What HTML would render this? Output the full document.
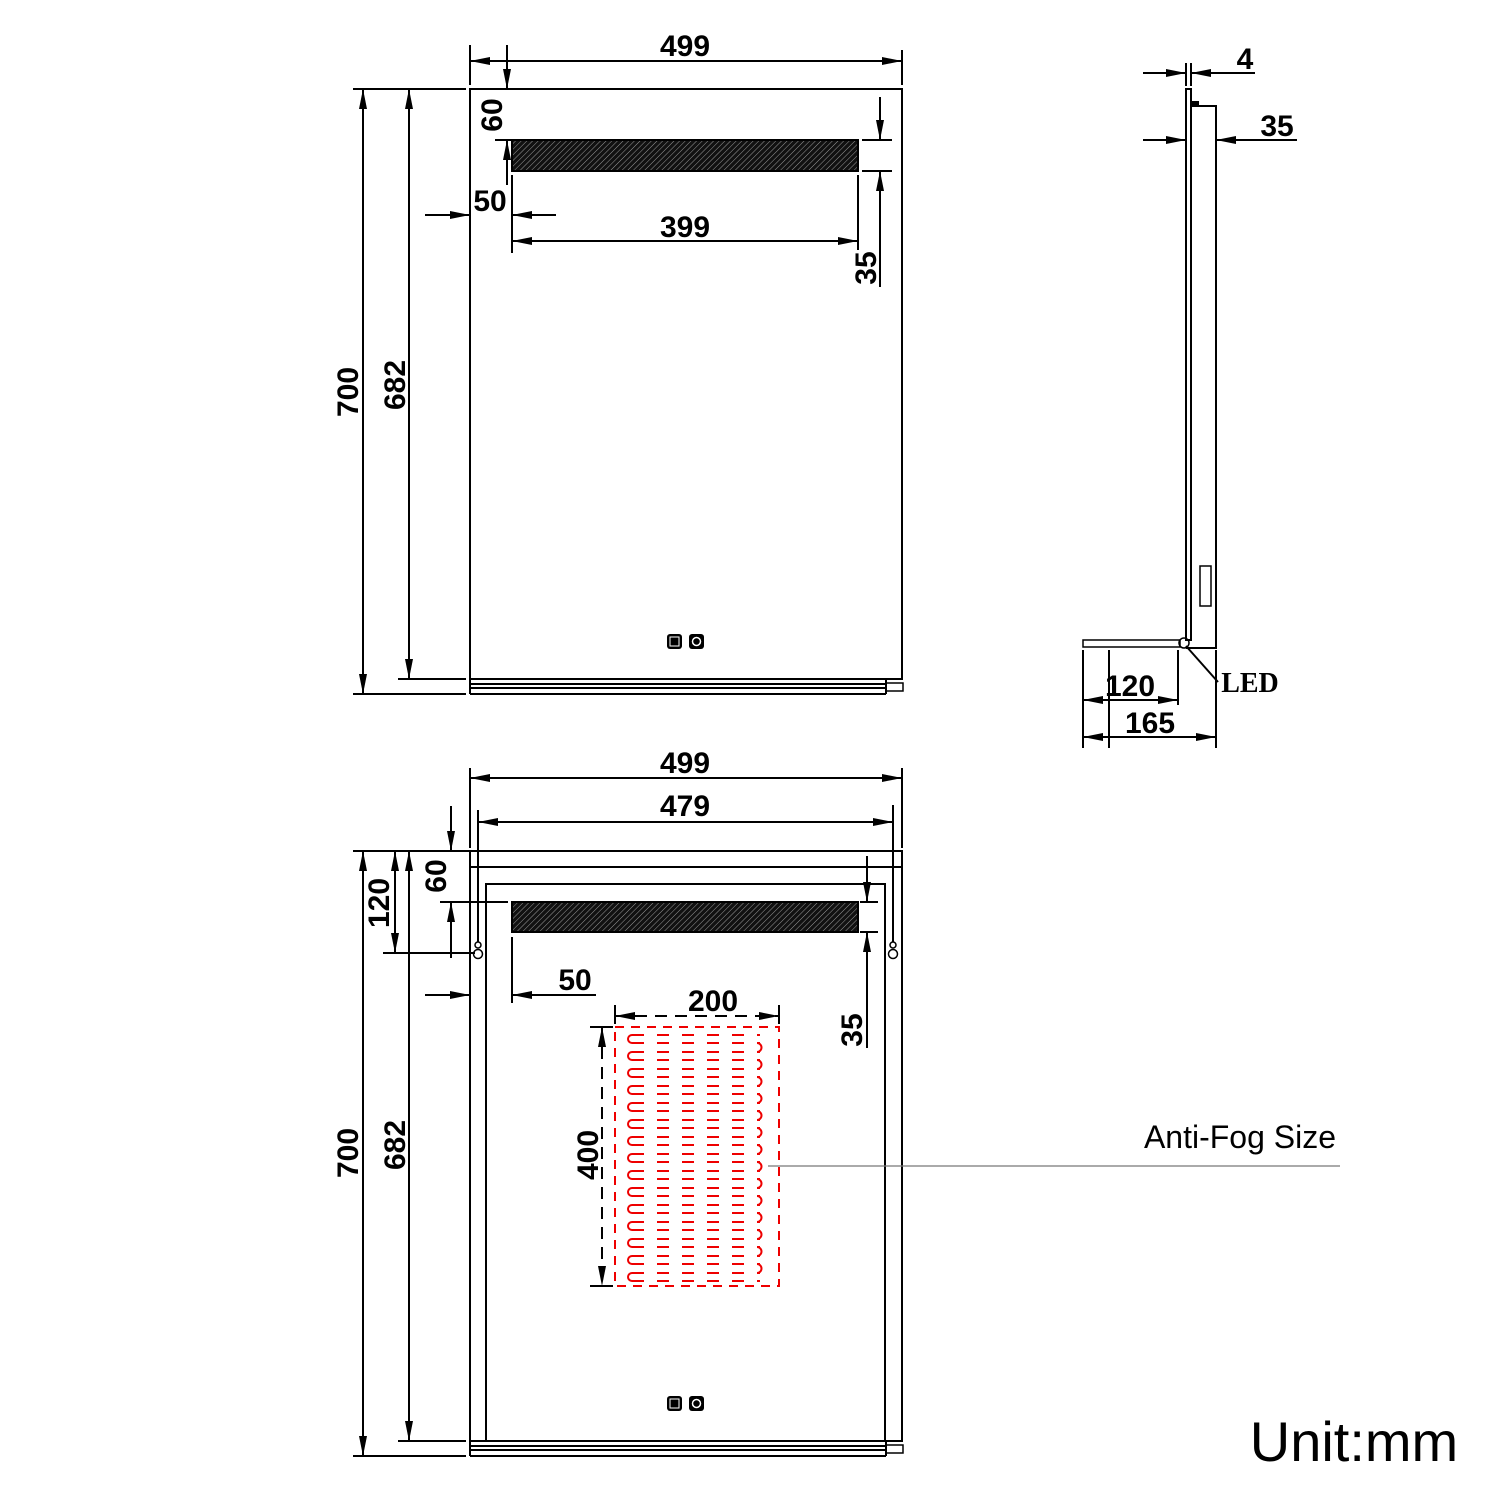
<!DOCTYPE html>
<html><head><meta charset="utf-8"><style>
html,body{margin:0;padding:0;background:#fff}
svg{display:block}
.n{font-family:"Liberation Sans Narrow","Liberation Sans",sans-serif;font-weight:bold;font-size:30px;fill:#000}
</style></head><body>
<svg width="1500" height="1500" viewBox="0 0 1500 1500" xmlns="http://www.w3.org/2000/svg">
<defs>
<marker id="a" viewBox="0 0 20 8" refX="20" refY="4" markerWidth="20" markerHeight="8" markerUnits="userSpaceOnUse" orient="auto-start-reverse"><path d="M0,0 L20,4 L0,8 z" fill="#000"/></marker>
<pattern id="h" width="4" height="4" patternUnits="userSpaceOnUse" patternTransform="rotate(45)"><rect width="4" height="4" fill="#111"/><line x1="0" y1="0" x2="0" y2="4" stroke="#999" stroke-width="1"/></pattern>
</defs>
<g stroke="#000" stroke-width="2" fill="none">
<rect x="470" y="89" width="432" height="590"/>
<line x1="470" y1="684" x2="886" y2="684"/><line x1="470" y1="688" x2="886" y2="688"/><line x1="470" y1="694" x2="886" y2="694"/>
<line x1="470" y1="679" x2="470" y2="694"/><line x1="886" y1="679" x2="886" y2="694"/>
<rect x="886" y="683" width="17" height="8" stroke-width="1.5"/>
<rect x="512" y="140" width="346" height="31" fill="url(#h)"/>
<line x1="470" y1="45" x2="470" y2="85"/><line x1="902" y1="50" x2="902" y2="85"/>
<line x1="470" y1="61" x2="902" y2="61" marker-start="url(#a)" marker-end="url(#a)"/>
<line x1="353" y1="89" x2="466" y2="89"/><line x1="353" y1="694" x2="466" y2="694"/><line x1="398" y1="679" x2="466" y2="679"/>
<line x1="363" y1="89" x2="363" y2="694" marker-start="url(#a)" marker-end="url(#a)"/>
<line x1="409" y1="89" x2="409" y2="679" marker-start="url(#a)" marker-end="url(#a)"/>
<line x1="507" y1="45" x2="507" y2="89" marker-end="url(#a)"/>
<line x1="507" y1="185" x2="507" y2="140" marker-end="url(#a)"/>
<line x1="495" y1="140" x2="512" y2="140"/>
<line x1="425" y1="215" x2="470" y2="215" marker-end="url(#a)"/>
<line x1="556" y1="215" x2="512" y2="215" marker-end="url(#a)"/>
<line x1="512" y1="175" x2="512" y2="253"/><line x1="858" y1="175" x2="858" y2="250"/>
<line x1="512" y1="241" x2="858" y2="241" marker-start="url(#a)" marker-end="url(#a)"/>
<line x1="862" y1="140" x2="892" y2="140"/><line x1="862" y1="171" x2="892" y2="171"/>
<line x1="880" y1="97" x2="880" y2="140" marker-end="url(#a)"/>
<line x1="880" y1="287" x2="880" y2="171" marker-end="url(#a)"/>
</g>
<rect x="667" y="634" width="15" height="15" rx="3" fill="#000"/><rect x="689" y="634" width="15" height="15" rx="3" fill="#000"/>
<rect x="670" y="637" width="9" height="9" fill="none" stroke="#fff" stroke-width="1"/><circle cx="696.5" cy="641.5" r="4" fill="none" stroke="#fff" stroke-width="1.5"/>
<text class="n" x="685" y="56" text-anchor="middle">499</text>
<text class="n" x="685" y="237" text-anchor="middle">399</text>
<text class="n" x="490" y="211" text-anchor="middle">50</text>
<text class="n" transform="translate(502,115) rotate(-90)" text-anchor="middle">60</text>
<text class="n" transform="translate(876,268) rotate(-90)" text-anchor="middle">35</text>
<text class="n" transform="translate(358,392) rotate(-90)" text-anchor="middle">700</text>
<text class="n" transform="translate(405,385) rotate(-90)" text-anchor="middle">682</text>

<g stroke="#000" stroke-width="2" fill="none">
<rect x="470" y="851" width="432" height="590"/>
<line x1="470" y1="867" x2="902" y2="867"/>
<path d="M486,1441 V884 H885 V1441"/>
<line x1="470" y1="1446" x2="886" y2="1446"/><line x1="470" y1="1450" x2="886" y2="1450"/><line x1="470" y1="1456" x2="886" y2="1456"/>
<line x1="470" y1="1441" x2="470" y2="1456"/><line x1="886" y1="1441" x2="886" y2="1456"/>
<rect x="886" y="1445" width="17" height="8" stroke-width="1.5"/>
<rect x="512" y="902" width="346" height="30" fill="url(#h)"/>
<line x1="478" y1="810" x2="478" y2="942"/><line x1="893" y1="805" x2="893" y2="942"/>
<circle cx="478" cy="954" r="4.5" stroke-width="1.5"/><circle cx="478" cy="945" r="3" stroke-width="1.5"/>
<circle cx="893" cy="954" r="4.5" stroke-width="1.5"/><circle cx="893" cy="945" r="3" stroke-width="1.5"/>
<line x1="470" y1="768" x2="470" y2="848"/><line x1="902" y1="768" x2="902" y2="848"/>
<line x1="470" y1="778" x2="902" y2="778" marker-start="url(#a)" marker-end="url(#a)"/>
<line x1="478" y1="822" x2="893" y2="822" marker-start="url(#a)" marker-end="url(#a)"/>
<line x1="353" y1="851" x2="470" y2="851"/><line x1="353" y1="1456" x2="466" y2="1456"/><line x1="398" y1="1441" x2="466" y2="1441"/>
<line x1="363" y1="851" x2="363" y2="1456" marker-start="url(#a)" marker-end="url(#a)"/>
<line x1="409" y1="851" x2="409" y2="1441" marker-start="url(#a)" marker-end="url(#a)"/>
<line x1="395" y1="851" x2="395" y2="953" marker-start="url(#a)" marker-end="url(#a)"/>
<line x1="383" y1="953" x2="475" y2="953"/>
<line x1="451" y1="806" x2="451" y2="851" marker-end="url(#a)"/>
<line x1="451" y1="958" x2="451" y2="902" marker-end="url(#a)"/>
<line x1="440" y1="902" x2="508" y2="902"/>
<line x1="425" y1="995" x2="470" y2="995" marker-end="url(#a)"/>
<line x1="596" y1="995" x2="512" y2="995" marker-end="url(#a)"/>
<line x1="512" y1="937" x2="512" y2="1003"/>
<line x1="860" y1="902" x2="878" y2="902"/><line x1="860" y1="932" x2="878" y2="932"/>
<line x1="867" y1="856" x2="867" y2="902" marker-end="url(#a)"/>
<line x1="867" y1="1048" x2="867" y2="932" marker-end="url(#a)"/>
<line x1="615" y1="1005" x2="615" y2="1024"/><line x1="779" y1="1005" x2="779" y2="1024"/>
<line x1="615" y1="1016" x2="779" y2="1016" stroke-dasharray="12 8" marker-start="url(#a)" marker-end="url(#a)"/>
<line x1="590" y1="1027" x2="613" y2="1027"/><line x1="590" y1="1286" x2="613" y2="1286"/>
<line x1="602" y1="1027" x2="602" y2="1286" stroke-dasharray="12 8" marker-start="url(#a)" marker-end="url(#a)"/>
</g>
<g stroke="#e00" stroke-width="2" fill="none">
<rect x="615" y="1027" width="164" height="259" stroke-dasharray="9 7"/>
<path d="
M632,1035 A4,4 0 0 0 632,1043 M632,1052 A4,4 0 0 0 632,1060 M632,1069 A4,4 0 0 0 632,1077 M632,1086 A4,4 0 0 0 632,1094 M632,1103 A4,4 0 0 0 632,1111 M632,1120 A4,4 0 0 0 632,1128 M632,1137 A4,4 0 0 0 632,1145 M632,1154 A4,4 0 0 0 632,1162 M632,1171 A4,4 0 0 0 632,1179 M632,1188 A4,4 0 0 0 632,1196 M632,1205 A4,4 0 0 0 632,1213 M632,1222 A4,4 0 0 0 632,1230 M632,1239 A4,4 0 0 0 632,1247 M632,1256 A4,4 0 0 0 632,1264 M632,1273 A4,4 0 0 0 632,1281
M757,1043 A4,4 0 0 1 757,1052 M757,1060 A4,4 0 0 1 757,1069 M757,1077 A4,4 0 0 1 757,1086 M757,1094 A4,4 0 0 1 757,1103 M757,1111 A4,4 0 0 1 757,1120 M757,1128 A4,4 0 0 1 757,1137 M757,1145 A4,4 0 0 1 757,1154 M757,1162 A4,4 0 0 1 757,1171 M757,1179 A4,4 0 0 1 757,1188 M757,1196 A4,4 0 0 1 757,1205 M757,1213 A4,4 0 0 1 757,1222 M757,1230 A4,4 0 0 1 757,1239 M757,1247 A4,4 0 0 1 757,1256 M757,1264 A4,4 0 0 1 757,1273"/>
<path stroke-dasharray="12 13" d="
M632,1035 H760 M632,1043 H760 M632,1052 H760 M632,1060 H760 M632,1069 H760 M632,1077 H760 M632,1086 H760 M632,1094 H760 M632,1103 H760 M632,1111 H760 M632,1120 H760 M632,1128 H760 M632,1137 H760 M632,1145 H760 M632,1154 H760 M632,1162 H760 M632,1171 H760 M632,1179 H760 M632,1188 H760 M632,1196 H760 M632,1205 H760 M632,1213 H760 M632,1222 H760 M632,1230 H760 M632,1239 H760 M632,1247 H760 M632,1256 H760 M632,1264 H760 M632,1273 H760 M632,1281 H760"/>
</g>
<line x1="768" y1="1166" x2="1340" y2="1166" stroke="#777" stroke-width="1.2"/>
<rect x="667" y="1396" width="15" height="15" rx="3" fill="#000"/><rect x="689" y="1396" width="15" height="15" rx="3" fill="#000"/>
<rect x="670" y="1399" width="9" height="9" fill="none" stroke="#fff" stroke-width="1"/><circle cx="696.5" cy="1403.5" r="4" fill="none" stroke="#fff" stroke-width="1.5"/>
<text class="n" x="685" y="773" text-anchor="middle">499</text>
<text class="n" x="685" y="816" text-anchor="middle">479</text>
<text class="n" x="575" y="990" text-anchor="middle">50</text>
<text class="n" x="713" y="1011" text-anchor="middle">200</text>
<text class="n" transform="translate(446,876) rotate(-90)" text-anchor="middle">60</text>
<text class="n" transform="translate(389,903) rotate(-90)" text-anchor="middle">120</text>
<text class="n" transform="translate(862,1030) rotate(-90)" text-anchor="middle">35</text>
<text class="n" transform="translate(598,1155) rotate(-90)" text-anchor="middle">400</text>
<text class="n" transform="translate(358,1153) rotate(-90)" text-anchor="middle">700</text>
<text class="n" transform="translate(405,1145) rotate(-90)" text-anchor="middle">682</text>
<text x="1240" y="1148" text-anchor="middle" font-family="Liberation Sans, sans-serif" font-size="32" fill="#000">Anti-Fog Size</text>
<text x="1354" y="1461" text-anchor="middle" font-family="Liberation Sans, sans-serif" font-size="56" fill="#000">Unit:mm</text>

<g stroke="#000" stroke-width="2" fill="none">
<rect x="1186" y="89" width="5" height="551"/>
<path d="M1191,106 H1216 V648 H1186"/>
<rect x="1191" y="102" width="7" height="4" fill="#000"/>
<rect x="1200" y="566" width="11" height="40" stroke-width="1.5"/>
<rect x="1083" y="640" width="97" height="7" stroke-width="1.5"/>
<circle cx="1184" cy="643" r="5" stroke-width="1.5"/>
<line x1="1186" y1="646" x2="1218" y2="682" stroke-width="2"/>
<line x1="1186" y1="63" x2="1186" y2="86"/><line x1="1191" y1="63" x2="1191" y2="86"/>
<line x1="1143" y1="73" x2="1186" y2="73" marker-end="url(#a)"/>
<line x1="1255" y1="73" x2="1191" y2="73" marker-end="url(#a)"/>
<line x1="1143" y1="140" x2="1186" y2="140" marker-end="url(#a)"/>
<line x1="1297" y1="140" x2="1216" y2="140" marker-end="url(#a)"/>
<line x1="1083" y1="650" x2="1083" y2="748"/><line x1="1109" y1="650" x2="1109" y2="748"/>
<line x1="1178" y1="650" x2="1178" y2="705"/><line x1="1216" y1="650" x2="1216" y2="748"/>
<line x1="1083" y1="700" x2="1178" y2="700" marker-start="url(#a)" marker-end="url(#a)"/>
<line x1="1083" y1="737" x2="1216" y2="737" marker-start="url(#a)" marker-end="url(#a)"/>
</g>
<text class="n" x="1245" y="69" text-anchor="middle">4</text>
<text class="n" x="1277" y="136" text-anchor="middle">35</text>
<text class="n" x="1130" y="696" text-anchor="middle">120</text>
<text class="n" x="1150" y="733" text-anchor="middle">165</text>
<text class="n" x="1250" y="692" text-anchor="middle" style="font-family:'Liberation Serif',serif;font-size:28px">LED</text>
</svg>
</body></html>
